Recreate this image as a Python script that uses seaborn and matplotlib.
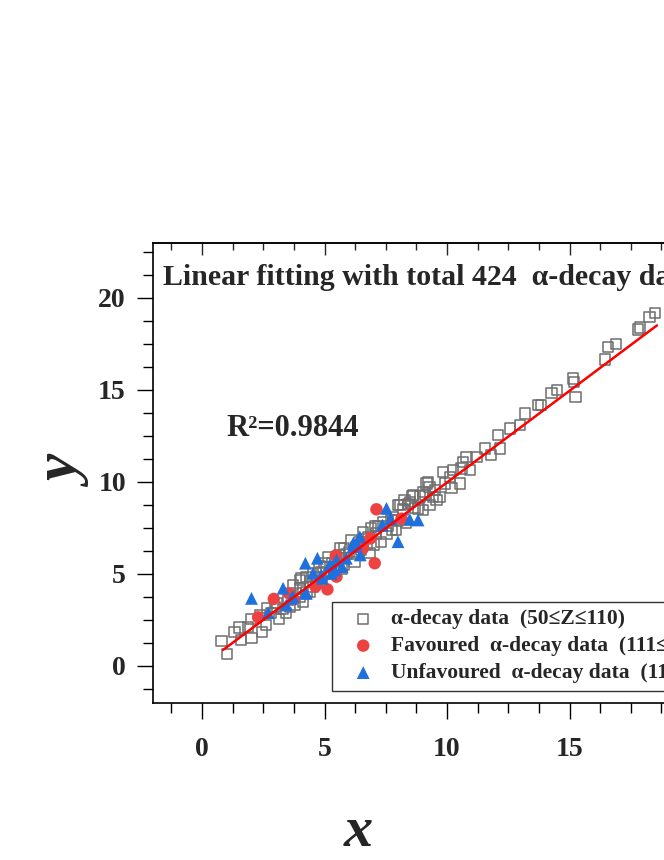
import numpy as np
import pandas as pd
import matplotlib
matplotlib.use("Agg")
import matplotlib.pyplot as plt
from matplotlib.ticker import MultipleLocator
import seaborn as sns

# ---------------- data ----------------
sq_x = [0.80, 1.03, 1.33, 1.53, 1.58, 2.02, 1.99, 1.88, 2.45, 2.60, 2.38, 2.65, 2.83, 3.14, 3.44,
        2.97, 3.04, 3.71, 3.99, 3.85, 4.12, 3.78, 3.99, 4.26, 4.06, 4.40, 4.26, 4.53, 4.53, 4.67,
        4.87, 5.08, 5.14, 5.62, 5.60, 5.69, 6.10, 6.23, 6.30, 6.57, 6.71, 6.84, 6.91, 7.05, 7.32,
        7.53, 7.73, 7.75, 7.93, 8.10, 8.20, 8.34, 8.40, 8.59, 8.82, 9.02,
        8.00, 8.27, 8.62, 9.02, 9.16, 9.22, 9.29, 9.50, 9.70, 9.43, 9.57, 9.29, 9.84, 10.11, 9.91,
        10.52, 10.18, 10.24, 10.59, 10.65, 10.93, 10.79, 11.20, 11.54, 11.81, 12.15, 12.08, 12.56,
        12.97, 13.17, 13.71, 13.85, 14.26, 14.49, 15.14, 15.17, 15.25, 16.44, 16.57, 16.91, 17.80,
        17.89, 18.27, 18.48,
        3.30, 3.50, 3.60, 4.00, 4.40, 4.70, 4.90, 5.20, 5.30, 5.40, 5.50, 5.80, 5.90, 6.00, 6.20,
        6.40, 6.50, 6.60, 6.80, 7.00, 7.10, 7.20, 7.40, 7.60, 7.80, 8.00, 8.50, 8.70, 8.90, 9.10,
        5.00, 4.80, 5.80]
sq_y = [1.37, 0.65, 1.86, 2.08, 1.41, 1.50, 2.53, 2.13, 1.86, 2.23, 2.77, 3.13, 2.86, 2.53, 2.86,
        3.22, 3.40, 4.40, 4.67, 3.95, 3.49, 3.31, 3.76, 4.85, 4.76, 4.58, 4.03, 4.31, 5.03, 4.49,
        5.12, 5.39, 5.93, 6.39, 6.03, 5.30, 6.84, 5.66, 6.48, 7.29, 6.66, 6.12, 7.48, 7.60, 6.75,
        7.20, 7.93, 7.40, 7.38, 8.74, 8.50, 7.75, 8.80, 9.23, 8.56, 8.47,
        8.74, 9.01, 9.28, 9.46, 9.92, 10.00, 9.73, 9.55, 9.19, 9.19, 9.01, 8.74, 10.55, 10.28, 9.92,
        9.92, 9.65, 10.64, 10.73, 11.09, 10.64, 11.36, 11.36, 11.82, 11.45, 11.82, 12.54, 12.90,
        13.08, 13.72, 14.17, 14.17, 14.84, 14.98, 15.62, 15.44, 14.62, 16.65, 17.34, 17.48, 18.28,
        18.39, 18.96, 19.18,
        3.10, 3.60, 3.20, 4.20, 4.00, 4.80, 4.60, 5.00, 5.60, 5.20, 5.80, 5.50, 6.10, 6.20, 6.10,
        6.70, 6.30, 6.90, 7.00, 6.60, 7.20, 7.60, 7.80, 7.60, 8.10, 7.90, 8.90, 8.60, 9.20, 9.30,
        5.60, 5.40, 6.40]

fav_x = [2.29, 2.93, 3.54, 3.74, 4.63, 5.12, 5.49, 5.46, 6.44, 6.57, 6.87, 7.05, 7.12, 8.14]
fav_y = [2.64, 3.64, 3.95, 3.62, 4.31, 4.16, 4.85, 6.00, 6.48, 6.39, 6.93, 5.58, 8.51, 8.00]

unf_x = [2.02, 2.70, 3.31, 3.44, 3.65, 4.22, 4.22, 4.53, 4.71, 4.90, 5.21, 5.28, 5.49, 5.72, 5.89,
         6.17, 6.30, 6.44, 6.46, 7.36, 7.53, 7.70, 8.00, 8.48, 8.82, 4.87, 5.42, 6.16, 4.26, 3.71]
unf_y = [3.67, 2.89, 4.22, 3.31, 3.67, 3.95, 5.58, 5.03, 5.85, 4.76, 5.48, 5.03, 5.75, 5.39, 5.85,
         6.66, 6.66, 7.02, 6.03, 7.65, 8.56, 8.02, 6.75, 7.96, 7.93, 4.94, 5.21, 6.48, 3.95, 3.76]

fit_slope = 0.996
fit_intercept = 0.01
fit_x_range = [0.86, 18.57]

labels = ["\u03b1-decay data  (50\u2264Z\u2264110)",
          "Favoured  \u03b1-decay data  (111\u2264Z\u2264118)",
          "Unfavoured  \u03b1-decay data  (111\u2264Z\u2264118)"]
title_text = "Linear fitting with total 424  \u03b1-decay data"
r2_text = "R\u00b2=0.9844"

# ---------------- style ----------------
sns.set_style("ticks")
plt.rcParams['font.family'] = ['Liberation Serif', 'DejaVu Serif']
plt.rcParams['font.weight'] = 'bold'

W, H = 664, 860
fig = plt.figure(figsize=(W / 100, H / 100), dpi=100)
ax_left, ax_right_px, ax_top, ax_bot = 153, 690, 242.7, 702.7
ax = fig.add_axes([ax_left / W, 1 - ax_bot / H, (ax_right_px - ax_left) / W, (ax_bot - ax_top) / H])

df_sq = pd.DataFrame({"x": sq_x, "y": sq_y})
df_fav = pd.DataFrame({"x": fav_x, "y": fav_y})
df_unf = pd.DataFrame({"x": unf_x, "y": unf_y})

sns.scatterplot(data=df_sq, x="x", y="y", ax=ax, marker="s", s=55, facecolor="none",
                edgecolor="#6e6e6e", linewidth=1.1, label=labels[0], zorder=2)
sns.scatterplot(data=df_fav, x="x", y="y", ax=ax, marker="o", s=80, color="#ee4242",
                edgecolor="none", linewidth=0, label=labels[1], zorder=3)
sns.scatterplot(data=df_unf, x="x", y="y", ax=ax, marker="^", s=85, color="#1f6fdc",
                edgecolor="none", linewidth=0, label=labels[2], zorder=4)

fx = np.array(fit_x_range)
ax.plot(fx, fit_slope * fx + fit_intercept, color="#ff0000", lw=1.8, zorder=5)

ax.set_xlim(-2, -2 + (ax_right_px - ax_left) / 24.5)
ax.set_ylim(-2, 23)

for s in ax.spines.values():
    s.set_linewidth(1.2)
    s.set_color("black")

ax.xaxis.set_major_locator(MultipleLocator(5))
ax.xaxis.set_minor_locator(MultipleLocator(1.25))
ax.yaxis.set_major_locator(MultipleLocator(5))
ax.yaxis.set_minor_locator(MultipleLocator(1.25))
ax.tick_params(axis="both", which="major", direction="out", length=11.5, width=1.0,
               labelsize=20, color="black")
ax.tick_params(axis="both", which="minor", direction="out", length=7.5, width=1.0, color="black")
ax.tick_params(axis="x", which="major", pad=13)
ax.tick_params(axis="y", which="major", pad=8)
for lab in ax.get_xticklabels() + ax.get_yticklabels():
    lab.set_fontweight("bold")

top = ax.secondary_xaxis("top")
top.xaxis.set_major_locator(MultipleLocator(5))
top.xaxis.set_minor_locator(MultipleLocator(1.25))
top.tick_params(which="major", direction="in", length=8.6, width=1.0, labeltop=False)
top.tick_params(which="minor", direction="in", length=5, width=1.0)
top.spines["top"].set_linewidth(1.2)

ax.set_xlabel("x", fontsize=42, fontstyle="italic", fontweight="bold")
ax.set_ylabel("y", fontsize=44, fontstyle="italic", fontweight="bold")
ax.xaxis.label.set_verticalalignment("baseline")
ax.xaxis.set_label_coords((358 - ax_left) / (ax_right_px - ax_left), (ax_bot - 846) / (ax_bot - ax_top))
ax.yaxis.label.set_verticalalignment("center")
ax.yaxis.set_label_coords((67 - ax_left) / (ax_right_px - ax_left), (ax_bot - 473) / (ax_bot - ax_top))

ax.text((163 - ax_left) / (ax_right_px - ax_left), (ax_bot - 285) / (ax_bot - ax_top), title_text,
        transform=ax.transAxes, fontsize=21.5, fontweight="bold", va="baseline", ha="left")
ax.text(1.0, 12.5, r2_text, fontsize=22, fontweight="bold", va="baseline", ha="left")

leg = ax.legend(loc="upper left", bbox_to_anchor=(332 / W, 1 - 601.7 / H),
                bbox_transform=fig.transFigure, borderaxespad=0,
                prop={"weight": "bold", "size": 15.5}, frameon=True, fancybox=False,
                edgecolor="#333333", framealpha=1, borderpad=0.35, labelspacing=0.32,
                handlelength=2.2, handletextpad=0.2, markerscale=1.0)
leg.get_frame().set_linewidth(1.0)

fig.savefig("out.png", dpi=100)
